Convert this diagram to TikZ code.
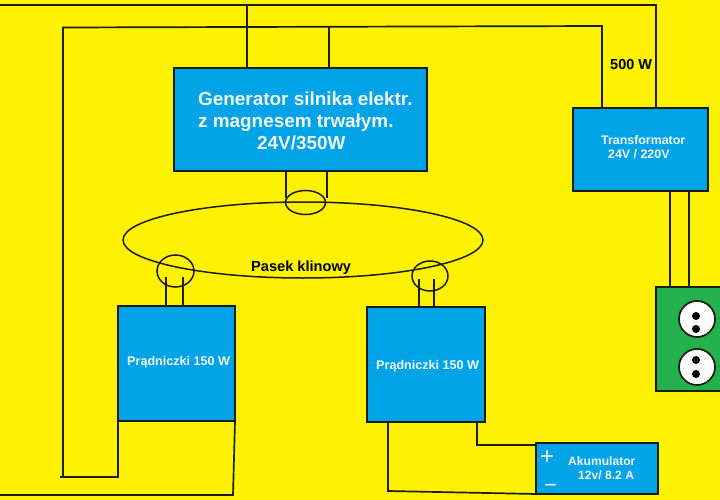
\documentclass[tikz,border=0pt]{standalone}
\usepackage{fontspec}
\setmainfont{Liberation Sans}
\definecolor{bgy}{HTML}{FFF200}
\definecolor{bluebox}{HTML}{00A2E8}
\definecolor{greenbox}{HTML}{22B14C}
\definecolor{ink}{HTML}{1C1C10}
\definecolor{labelw}{HTML}{F2FAFF}
\tikzset{
  wire/.style={draw=ink,line width=1.7pt},
  thinring/.style={draw=ink,line width=1.5pt},
  box/.style={draw=ink,line width=1.7pt,fill=bluebox,rectangle,inner sep=0pt,outer sep=0pt},
  socketbody/.style={draw=ink,line width=1.7pt,fill=greenbox,rectangle,inner sep=0pt,outer sep=0pt},
  hole/.style={circle,fill=black,minimum size=8pt,inner sep=0pt},
  outlet/.style={circle,draw=ink,line width=1.7pt,fill=white,minimum size=36pt,inner sep=0pt},
  txt/.style={anchor=west,inner sep=0pt,text=labelw,font=\bfseries,align=left},
}
\begin{document}
\begin{tikzpicture}[x=1pt,y=-1pt]
\useasboundingbox[fill=bgy] (0,0) rectangle (720,500);
% boxes
\node[box,minimum width=253pt,minimum height=103pt] (gen) at (300.5,119.5) {};
\node[box,minimum width=135pt,minimum height=83pt] (tr) at (640.5,149.5) {};
\node[box,minimum width=117pt,minimum height=115pt] (p1) at (176.5,363.5) {};
\node[box,minimum width=118pt,minimum height=115pt] (p2) at (426,364.5) {};
\node[box,minimum width=122pt,minimum height=51pt] (ak) at (597,468.5) {};
\node[socketbody,minimum width=70pt,minimum height=104pt] (so) at (691,339) {};
% free ends and corners of the wires
\coordinate (tl) at (0,5);
\coordinate (tr1) at (656,5);
\coordinate (tg) at (247,5);
\coordinate (ml) at (63,27.5);
\coordinate (mr) at (602,26);
\coordinate (mg) at (329,27);
\coordinate (lb) at (63,477);
\coordinate (lb0) at (60,477);
\coordinate (p1a) at (118,477);
\coordinate (bl) at (0,495);
\coordinate (p1b) at (233,495);
\coordinate (p1c) at (235,421);
\coordinate (p2a) at (388,491);
\coordinate (p2b) at (477,445);
% wires
\draw[wire] (tl) -- (tr1) -- (tr1 |- tr.north);
\draw[wire] (tg) -- (tg |- gen.north);
\draw[wire] (lb0) -- (lb) -- (ml) -- (mr) -- (mr |- tr.north);
\draw[wire] (mg) -- (mg |- gen.north);
\draw[wire] (p1a |- p1.south) -- (p1a) -- (lb0);
\draw[wire] (p1c) -- (p1b) -- (bl);
\draw[wire] (p2a |- p2.south) -- (p2a) -- (ak.south west);
\draw[wire] (p2b |- p2.south) -- (p2b) -- (ak.west |- p2b);
% belt and pulleys
\coordinate (s1) at (286,198);
\coordinate (s2) at (327,198);
\coordinate (s3) at (166,277);
\coordinate (s4) at (183,277);
\coordinate (s5) at (419,279);
\coordinate (s6) at (434,279);
\coordinate (s7) at (670,191);
\coordinate (s8) at (689,191);
\draw[wire] (s1 |- gen.south) -- (s1);
\draw[wire] (s2 |- gen.south) -- (s2);
\draw[wire] (s3) -- (s3 |- p1.north);
\draw[wire] (s4) -- (s4 |- p1.north);
\draw[wire] (s5) -- (s5 |- p2.north);
\draw[wire] (s6) -- (s6 |- p2.north);
\draw[wire] (s7) -- (s7 |- so.north);
\draw[wire] (s8) -- (s8 |- so.north);
\draw[thinring] (303,240) ellipse [x radius=180,y radius=38];
\draw[thinring] (305.5,202.5) ellipse [x radius=20,y radius=12];
\draw[thinring] (175.5,271) ellipse [x radius=18.5,y radius=16];
\draw[thinring] (430,276) ellipse [x radius=18,y radius=15];
% socket
\node[outlet] (o1) at (697,319) {};
\node[outlet] (o2) at (697,367) {};
\node[hole] (h1) at (696,316) {};
\node[hole] (h2) at (696,329) {};
\node[hole] (h3) at (696,360) {};
\node[hole] (h4) at (696,374) {};
% labels
\node[txt,font=\bfseries\fontsize{18.9}{22}\selectfont] (t1) at (198,121) {Generator silnika elektr.\\z magnesem trwałym.\\\hspace*{59pt}24V/350W};
\node[txt,font=\bfseries\fontsize{12.4}{14}\selectfont] (t2) at (601,147) {Transformator\\\hspace*{7pt}24V / 220V};
\node[txt,text=black,font=\bfseries\fontsize{14.5}{16}\selectfont] (t3) at (610,65) {500 W};
\node[txt,text=black,font=\bfseries\fontsize{14.6}{16}\selectfont] (t4) at (251,268) {Pasek klinowy};
\node[txt,font=\bfseries\fontsize{12.6}{15}\selectfont] (t5) at (127,362) {Prądniczki 150 W};
\node[txt,font=\bfseries\fontsize{12.6}{15}\selectfont] (t6) at (376,366) {Prądniczki 150 W};
\node[txt,font=\bfseries\fontsize{12.1}{14}\selectfont] (t7) at (568,468) {Akumulator\\\hspace*{10pt}12v/ 8.2 A};
\node[txt,font=\fontsize{24}{24}\selectfont] (t8) at (540,458) {+};
\node[txt,font=\fontsize{22}{22}\selectfont] (t9) at (544,488) {−};
\end{tikzpicture}
\end{document}
